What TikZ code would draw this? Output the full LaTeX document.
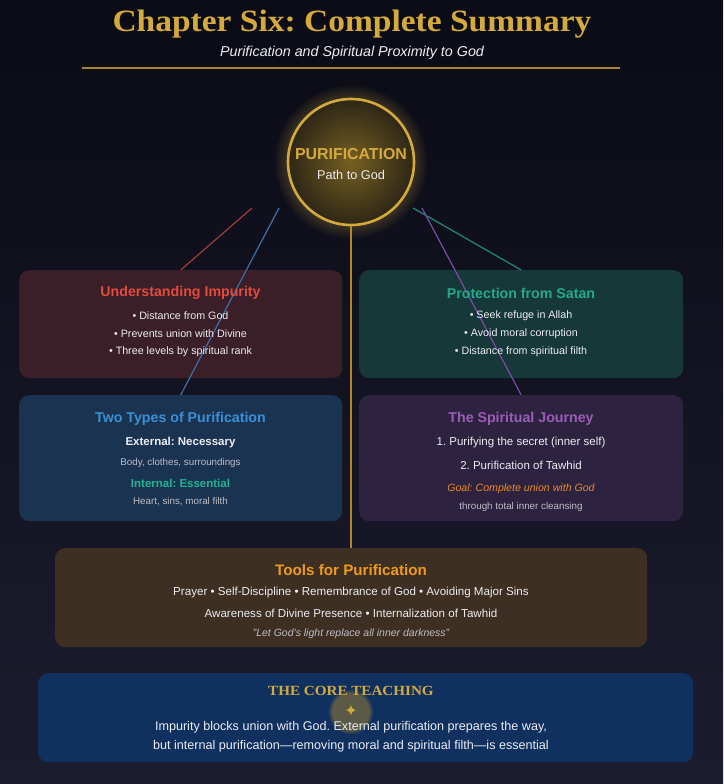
\documentclass[tikz,border=0pt]{standalone}
\usepackage{fontspec}
\setmainfont{Liberation Sans}
\newfontfamily\headserif{Liberation Serif}[FakeStretch=1.08]
\newfontfamily\symbolfont{DejaVu Sans}
\newcommand\fsz[1]{\fontsize{#1pt}{#1pt}\selectfont}
\frenchspacing

\definecolor{bgtop}{HTML}{0B0B15}
\definecolor{bgbot}{HTML}{1B1C2E}
\definecolor{gold}{HTML}{D4AA3C}
\definecolor{rulegold}{HTML}{A8862E}
\definecolor{stemgold}{HTML}{B4862C}
\definecolor{bodytext}{HTML}{ECECF2}
\definecolor{softtext}{HTML}{BCBCC6}
\definecolor{impfill}{HTML}{3A1F28}
\definecolor{protfill}{HTML}{163838}
\definecolor{typefill}{HTML}{1A3350}
\definecolor{jourfill}{HTML}{2D2340}
\definecolor{toolfill}{HTML}{3D3022}
\definecolor{corefill}{HTML}{103160}
\definecolor{impred}{HTML}{E24B3D}
\definecolor{protteal}{HTML}{26A98A}
\definecolor{typeblue}{HTML}{3A90D8}
\definecolor{innerteal}{HTML}{1FB592}
\definecolor{jourpurple}{HTML}{9B5CB8}
\definecolor{goalorange}{HTML}{E8892A}
\definecolor{toolorange}{HTML}{F09A1C}
\definecolor{linkred}{HTML}{9E3E3A}
\definecolor{linkblue}{HTML}{3C70A4}
\definecolor{linkteal}{HTML}{1F8C78}
\definecolor{linkpurple}{HTML}{7A4CA2}
\definecolor{starhalo}{HTML}{5A5A46}

\tikzset{
  panel/.style={draw=none, rounded corners=10pt, inner sep=0pt, anchor=north west},
  txt/.style={inner sep=0pt, text=bodytext, font=\fsz{10.7}},
  head/.style={inner sep=0pt, font=\bfseries\fsz{14.2}},
  small/.style={inner sep=0pt, text=softtext, font=\fsz{9.8}},
  link/.style={line width=1.2pt},
}

\begin{document}
\begin{tikzpicture}[x=1pt,y=-1pt]
% page background
\shade[top color=bgtop, bottom color=bgbot] (0,0) rectangle (723,784);
\useasboundingbox (0,0) rectangle (723,784);

% heading
\node[inner sep=0pt, text=gold, font=\headserif\bfseries\fsz{31}] (title) at (352,24) {Chapter Six: Complete Summary};
\node[inner sep=0pt, text=bodytext, font=\itshape\fsz{14.3}] (subtitle) at (352,53) {Purification and Spiritual Proximity to God};
\coordinate (ruleL) at (82,68);
\coordinate (ruleR) at (620,68);
\draw[rulegold, line width=1.2pt] (ruleL) -- (ruleR);

% glow round the central circle
\foreach \r in {76,74,...,64} \fill[gold, opacity=0.04] (351,162) circle (\r);
\node[circle, minimum size=126pt, inner sep=0pt, draw=gold, line width=2.6pt,
      inner color={rgb,255:red,118;green,95;blue,34}, outer color={rgb,255:red,46;green,39;blue,22}] (hub) at (351,162) {};

% panels
\node[panel, fill=impfill,  minimum width=323pt, minimum height=108pt] (impurity) at (19,270) {};
\node[panel, fill=protfill, minimum width=324pt, minimum height=108pt] (protect)  at (359,270) {};
\node[panel, fill=typefill, minimum width=323pt, minimum height=126pt] (types)    at (19,395) {};
\node[panel, fill=jourfill, minimum width=324pt, minimum height=126pt] (journey)  at (359,395) {};
\node[panel, fill=toolfill, minimum width=592pt, minimum height=99pt]  (tools)    at (55,548) {};
\node[panel, fill=corefill, minimum width=655pt, minimum height=89pt]  (core)     at (38,673) {};

% connectors
\coordinate (hubL1) at (252,208);
\coordinate (hubL2) at (279,208);
\coordinate (hubR1) at (413,208);
\coordinate (hubR2) at (422,208);
\draw[link, linkred]    (hubL1) -- (impurity.north);
\draw[link, linkblue]   (hubL2) -- (types.north);
\draw[link, linkteal]   (hubR1) -- (protect.north);
\draw[link, linkpurple] (hubR2) -- (journey.north);
\draw[stemgold, line width=1.5pt] (hub.south) -- (tools.north -| hub.south);

% central circle text
\node[inner sep=0pt, text=gold, font=\bfseries\fsz{15.9}] (hubtitle) at (351,154) {PURIFICATION};
\node[inner sep=0pt, text=bodytext, font=\fsz{12.7}] (hubsub) at (351,175) {Path to God};

% Understanding Impurity
\node[head, text=impred] (impT) at (180.5,293) {Understanding Impurity};
\node[txt] (imp1) at (180.5,316) {• Distance from God};
\node[txt] (imp2) at (180.5,334) {• Prevents union with Divine};
\node[txt] (imp3) at (180.5,352) {• Three levels by spiritual rank};

% Protection from Satan
\node[head, text=protteal] (proT) at (521,293) {Protection from Satan};
\node[txt] (pro1) at (521,316) {• Seek refuge in Allah};
\node[txt] (pro2) at (521,334) {• Avoid moral corruption};
\node[txt] (pro3) at (521,352) {• Distance from spiritual filth};

% Two Types of Purification
\node[head, text=typeblue] (typT) at (180.5,419) {Two Types of Purification};
\node[txt, font=\bfseries\fsz{11.5}] (typ1) at (180.5,443) {External: Necessary};
\node[small] (typ2) at (180.5,463) {Body, clothes, surroundings};
\node[txt, text=innerteal, font=\bfseries\fsz{11.5}] (typ3) at (180.5,483) {Internal: Essential};
\node[small] (typ4) at (180.5,502) {Heart, sins, moral filth};

% The Spiritual Journey
\node[head, text=jourpurple] (jouT) at (521,419) {The Spiritual Journey};
\node[txt, font=\fsz{11.5}] (jou1) at (521,443) {1. Purifying the secret (inner self)};
\node[txt, font=\fsz{11.5}] (jou2) at (521,465) {2. Purification of Tawhid};
\node[txt, text=goalorange, font=\itshape\fsz{10.6}] (jou3) at (521,489) {Goal: Complete union with God};
\node[small] (jou4) at (521,507) {through total inner cleansing};

% Tools for Purification
\node[head, text=toolorange, font=\bfseries\fsz{15.2}] (tooT) at (351,570) {Tools for Purification};
\node[txt, font=\fsz{11.6}] (too1) at (351,592) {Prayer • Self-Discipline • Remembrance of God • Avoiding Major Sins};
\node[txt, font=\fsz{11.6}] (too2) at (351,613) {Awareness of Divine Presence • Internalization of Tawhid};
\node[small, font=\itshape\fsz{10.5}] (too3) at (351,634) {"Let God's light replace all inner darkness"};

% The core teaching: halo behind the star, then the texts on top
\fill[starhalo, opacity=0.35] (351,712) circle (22);
\fill[starhalo, opacity=0.55] (351,712) circle (20.5);
\fill[starhalo] (351,712) circle (19);
\node[inner sep=0pt, text=gold, font=\headserif\bfseries\fsz{14}] (corT) at (351,691) {THE CORE TEACHING};
\node[inner sep=0pt, text=gold, font=\symbolfont\fsz{16}] (star) at (351,711) {✦};
\node[txt, font=\fsz{12.6}] (cor1) at (351,727) {Impurity blocks union with God. External purification prepares the way,};
\node[txt, font=\fsz{12.6}] (cor2) at (351,746) {but internal purification—removing moral and spiritual filth—is essential};
\end{tikzpicture}
\end{document}
